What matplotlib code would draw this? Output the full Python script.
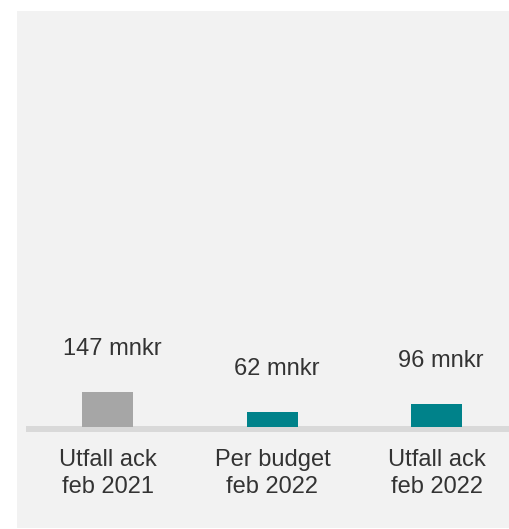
import numpy as np
import matplotlib.pyplot as plt

# Datos del grafico
kategorier = ["Utfall ack\nfeb 2021", "Per budget\nfeb 2022", "Utfall ack\nfeb 2022"]
varden = [147, 62, 96]
etiketter = ["147 mnkr", "62 mnkr", "96 mnkr"]
farger = ["#a6a6a6", "#00828a", "#00828a"]

plt.rcParams['font.family'] = ['Liberation Sans', 'DejaVu Sans']

fig = plt.figure(figsize=(5.10, 5.29), dpi=100)
fig.patch.set_facecolor("white")

# Panel gris
ax = fig.add_axes([17/510, 1 - 528/529, 494/510, 517/529])
ax.set_facecolor("#f2f2f2")

x = np.arange(len(varden))
ax.bar(x, varden, width=0.31, color=farger, zorder=3)

# Linea base
ax.axhline(-8, xmin=9/494, xmax=1, color="#d9d9d9", lw=4.3, zorder=2,
           solid_capstyle="butt")

for i, v in enumerate(varden):
    ax.annotate(etiketter[i], (x[i], v), xytext=(3, 31.5), textcoords="offset points",
                ha="center", va="center", fontsize=17, color="#333333")
    ax.annotate(kategorier[i], (x[i], 0), xytext=(0, -33.5), textcoords="offset points",
                ha="center", va="center", fontsize=17, color="#333333", linespacing=1.25)

ax.set_xlim(-0.553, 2.45)
ax.set_ylim(-430, 1770)
ax.set_xticks([])
ax.set_yticks([])
for s in ax.spines.values():
    s.set_visible(False)

plt.savefig("out.png", dpi=100, facecolor=fig.get_facecolor())
